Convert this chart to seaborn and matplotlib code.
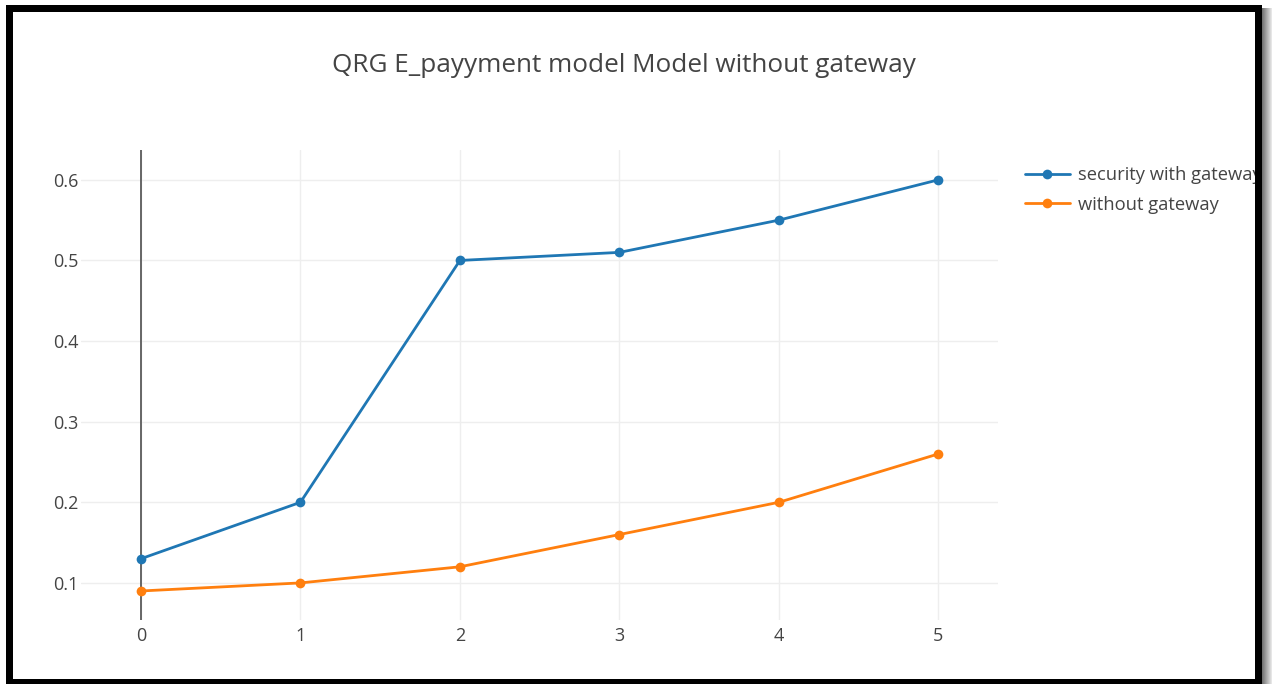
import matplotlib
matplotlib.use("Agg")
import matplotlib.pyplot as plt
from matplotlib.patches import Rectangle
import seaborn as sns
import pandas as pd

# Series values
steps = [0, 1, 2, 3, 4, 5]
with_gateway = [0.13, 0.20, 0.50, 0.51, 0.55, 0.60]
without_gateway = [0.09, 0.10, 0.12, 0.16, 0.20, 0.26]
series_names = ["security with gateway", "without gateway"]
y_ticks = [0.1, 0.2, 0.3, 0.4, 0.5, 0.6]
title = "QRG E_payyment model Model without gateway"

df = pd.DataFrame({
    "step": steps * 2,
    "value": with_gateway + without_gateway,
    "series": [series_names[0]] * len(steps) + [series_names[1]] * len(steps),
})

sns.set_theme(style="white")
plt.rcParams["font.family"] = ["Open Sans", "DejaVu Sans"]
text_color = "#444444"

W, H = 1272, 684
fig = plt.figure(figsize=(W / 100, H / 100), dpi=100)
ax = fig.add_axes([81 / W, 1 - 620 / H, (998 - 81) / W, (620 - 150) / H])

palette = {series_names[0]: "#1f77b4", series_names[1]: "#ff7f0e"}
sns.lineplot(data=df, x="step", y="value", hue="series", palette=palette,
             marker="o", markersize=7, markeredgewidth=0, linewidth=2.0,
             ax=ax, legend=True, zorder=3)

ax.set_xlim(-0.376, 5.374)
ax.set_ylim(0.054, 0.637)
ax.set_xticks(steps)
ax.set_yticks(y_ticks)
ax.set_xticklabels([str(s) for s in steps])
ax.set_yticklabels([f"{v:.1f}" for v in y_ticks])
ax.set_xlabel("")
ax.set_ylabel("")
ax.grid(True, color="#eeeeee", linewidth=1.0)
ax.set_axisbelow(True)
for sp in ax.spines.values():
    sp.set_visible(False)
ax.tick_params(axis="both", length=0, labelsize=13, labelcolor=text_color)
ax.tick_params(axis="y", pad=2)
ax.tick_params(axis="x", pad=5)

# zero line on the x axis
ax.axvline(0, color="#666666", linewidth=1.4, zorder=2)

handles, labels = ax.get_legend_handles_labels()
leg = ax.legend(handles, labels, loc="upper left",
                bbox_to_anchor=(1025 / W, 1 - 166 / H), bbox_transform=fig.transFigure,
                frameon=False, fontsize=13.2, handlelength=2.45, handletextpad=0.45,
                labelspacing=0.63, borderpad=0, borderaxespad=0)
for t in leg.get_texts():
    t.set_color(text_color)

fig.text(624 / W, 1 - 66 / H, title, ha="center", va="center",
         fontsize=18.8, color=text_color)

# frame around the picture
def frame_rect(x0, y0, x1, y1, color, alpha=1.0):
    fig.add_artist(Rectangle((x0 / W, 1 - y1 / H), (x1 - x0) / W, (y1 - y0) / H,
                             transform=fig.transFigure, facecolor=color,
                             edgecolor="none", alpha=alpha, zorder=100))

# soft shadow on the right edge
for i in range(10):
    g = 0.45 + 0.05 * i
    frame_rect(1262 + i, 8, 1263 + i, H, (g, g, g))
frame_rect(6, 5, 1262, 12, "black")
frame_rect(6, 5, 13, H, "black")
frame_rect(1255, 5, 1262, H, "black")
frame_rect(6, 679, 1262, H, "black")

fig.savefig("out.png", dpi=100)
